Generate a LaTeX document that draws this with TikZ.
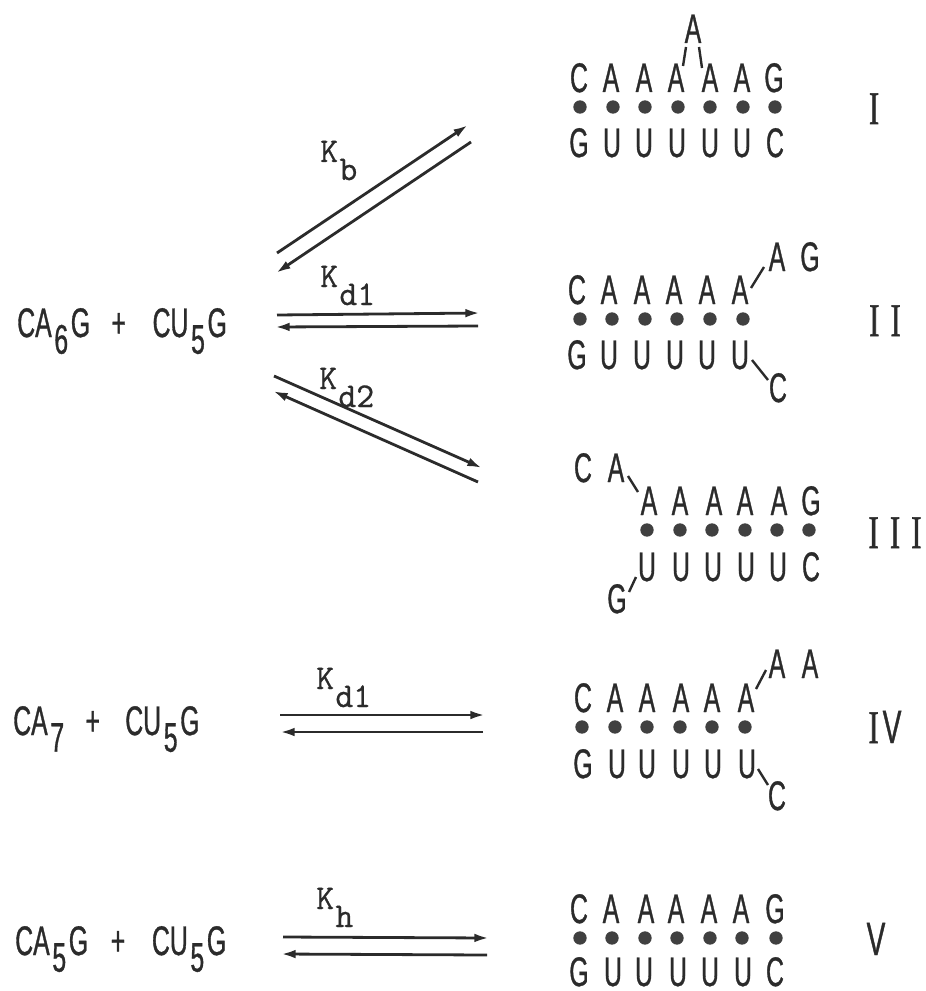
\documentclass[tikz,border=0pt]{standalone}
\usepackage{fontspec}
\setmainfont[FakeStretch=0.6,FakeBold=0.8]{Liberation Sans}
\setmonofont[FakeBold=0.8]{Latin Modern Mono}
\newfontfamily\romanfont[FakeStretch=0.65,FakeBold=1.2]{Liberation Serif}
\usepackage{tikz}
\usetikzlibrary{arrows.meta}
\definecolor{tinta}{HTML}{2B2B2B}
\newcommand{\lowdigit}[1]{\kern2pt\raisebox{-12.5pt}{#1}\kern2pt}
\newcommand{\lowtt}[1]{\kern1pt\raisebox{-13.5pt}{#1}}
\tikzset{
  base/.style={inner sep=0pt, anchor=base, text=tinta, font=\fontsize{31}{31}\selectfont},
  formula/.style={inner sep=0pt, anchor=base west, text=tinta, font=\fontsize{31}{31}\selectfont},
  numeral/.style={inner sep=0pt, anchor=base, text=tinta, font=\fontsize{35}{35}\romanfont},
  klabel/.style={inner sep=0pt, anchor=base west, text=tinta, font=\fontsize{26}{26}\ttfamily},
  hbond/.style={circle, fill=tinta!90, inner sep=0pt, minimum size=10pt},
  tick/.style={draw=tinta, line width=1.8pt},
  strand/.style={draw=tinta, line width=2.1pt},
  ahead/.style={strand, -{Latex[length=11pt,width=6.5pt]}}
}
\begin{document}
\begin{tikzpicture}[x=0.75pt, y=-0.75pt]
  \useasboundingbox (0,0) rectangle (925,991);
  % reactants
  \node[formula] (react1) at (17,337) {CA\lowdigit{6}G\hspace{16pt}+\hspace{20pt}CU\lowdigit{5}G};
  \node[formula] (react2) at (13,735) {CA\lowdigit{7}\hspace{14pt}+\hspace{19pt}CU\lowdigit{5}G};
  \node[formula] (react3) at (15,955) {CA\lowdigit{5}G\hspace{17pt}+\hspace{20pt}CU\lowdigit{5}G};
  % equilibrium arrows
  \foreach \n/\xa/\ya/\xb/\yb/\xc/\yc/\xd/\yd in {
    b/277/253/468/125/471/142/276/273,
    da/277/315/480/313/478/326/275/327,
    db/274/376/482/468/478/482/273/391,
    dc/280/715/485/715/483/732/280/732,
    h/283/937/489/938/487/955/281/954}{
    \coordinate (\n fs) at (\xa,\ya);
    \coordinate (\n fe) at (\xb,\yb);
    \coordinate (\n rs) at (\xc,\yc);
    \coordinate (\n re) at (\xd,\yd);
    \draw[ahead] (\n fs) -- (\n fe);
    \draw[ahead] (\n rs) -- (\n re);
  }
  % rate constants
  \node[klabel] (kb) at (320,162) {K\lowtt{b}};
  \node[klabel] (kd1) at (320,287) {K\lowtt{d1}};
  \node[klabel] (kd2) at (319,389) {K\lowtt{d2}};
  \node[klabel] (kd3) at (316,689) {K\lowtt{d1}};
  \node[klabel] (kh) at (316,909) {K\lowtt{h}};
  % duplex I
  \node[base] (bulge) at (693,43) {A};
  \foreach \x/\t [count=\i] in {579/C,611/A,644/A,676/A,710/A,742/A,774/G}
    \node[base] (ta\i) at (\x,92) {\t};
  \foreach \x [count=\i] in {580,613,645,678,710,743,775}
    \node[hbond] (da\i) at (\x,107) {};
  \foreach \x/\t [count=\i] in {579/G,612/U,644/U,677/U,710/U,742/U,775/C}
    \node[base] (ba\i) at (\x,157) {\t};
  % duplex II
  \foreach \x/\t [count=\i] in {577/C,609/A,642/A,674/A,707/A,740/A}
    \node[base] (tb\i) at (\x,304) {\t};
  \foreach \x/\t [count=\i] in {777/A,810/G}
    \node[base] (fb\i) at (\x,271) {\t};
  \foreach \x [count=\i] in {580,612,645,677,710,743}
    \node[hbond] (db\i) at (\x,319) {};
  \foreach \x/\t [count=\i] in {577/G,609/U,642/U,675/U,707/U,740/U}
    \node[base] (bb\i) at (\x,369) {\t};
  \node[base] (bb7) at (778,402) {C};
  % duplex III
  \foreach \x/\t [count=\i] in {583/C,616/A}
    \node[base] (fc\i) at (\x,482) {\t};
  \foreach \x/\t [count=\i] in {649/A,680/A,714/A,745/A,779/A,811/G}
    \node[base] (tc\i) at (\x,515) {\t};
  \foreach \x [count=\i] in {647,680,712,745,777,809}
    \node[hbond] (dc\i) at (\x,530) {};
  \foreach \x/\t [count=\i] in {647/U,681/U,713/U,746/U,778/U,811/C}
    \node[base] (bc\i) at (\x,581) {\t};
  \node[base] (bc7) at (617,613) {G};
  % duplex IV
  \foreach \x/\t [count=\i] in {583/C,615/A,647/A,681/A,712/A,746/A}
    \node[base] (td\i) at (\x,712) {\t};
  \foreach \x/\t [count=\i] in {777/A,810/A}
    \node[base] (fd\i) at (\x,678) {\t};
  \foreach \x [count=\i] in {582,615,647,680,712,745}
    \node[hbond] (dd\i) at (\x,727) {};
  \foreach \x/\t [count=\i] in {583/G,617/U,647/U,681/U,713/U,747/U}
    \node[base] (bd\i) at (\x,778) {\t};
  \node[base] (bd7) at (777,810) {C};
  % duplex V
  \foreach \x/\t [count=\i] in {579/C,611/A,646/A,676/A,709/A,741/A,775/G}
    \node[base] (te\i) at (\x,923) {\t};
  \foreach \x [count=\i] in {580,612,645,677,710,742,776}
    \node[hbond] (de\i) at (\x,938) {};
  \foreach \x/\t [count=\i] in {579/G,613/U,644/U,678/U,710/U,743/U,775/C}
    \node[base] (be\i) at (\x,986) {\t};
  % ticks
  \foreach \n/\xa/\ya/\xb/\yb in {
    ia/686/47/683/66, ib/699/47/702/68,
    iia/764/267/751/288, iib/752/360/768/380,
    iiia/628/476/638/492, iiib/636/577/629/592,
    iva/766/670/756/689, ivb/758/769/768/785}{
    \coordinate (\n s) at (\xa,\ya);
    \coordinate (\n e) at (\xb,\yb);
    \draw[tick] (\n s) -- (\n e);
  }
  % numerals
  \node[numeral] (nI) at (874,124) {I};
  \node[numeral] (nII) at (885,336) {I\kern8.5pt I};
  \node[numeral] (nIII) at (895,548) {I\kern8.5pt I\kern8.5pt I};
  \node[numeral] (nIV) at (885,743) {I\kern3pt{\rmfamily V}};
  \node[numeral] (nV) at (876,955) {\rmfamily V};
\end{tikzpicture}
\end{document}
